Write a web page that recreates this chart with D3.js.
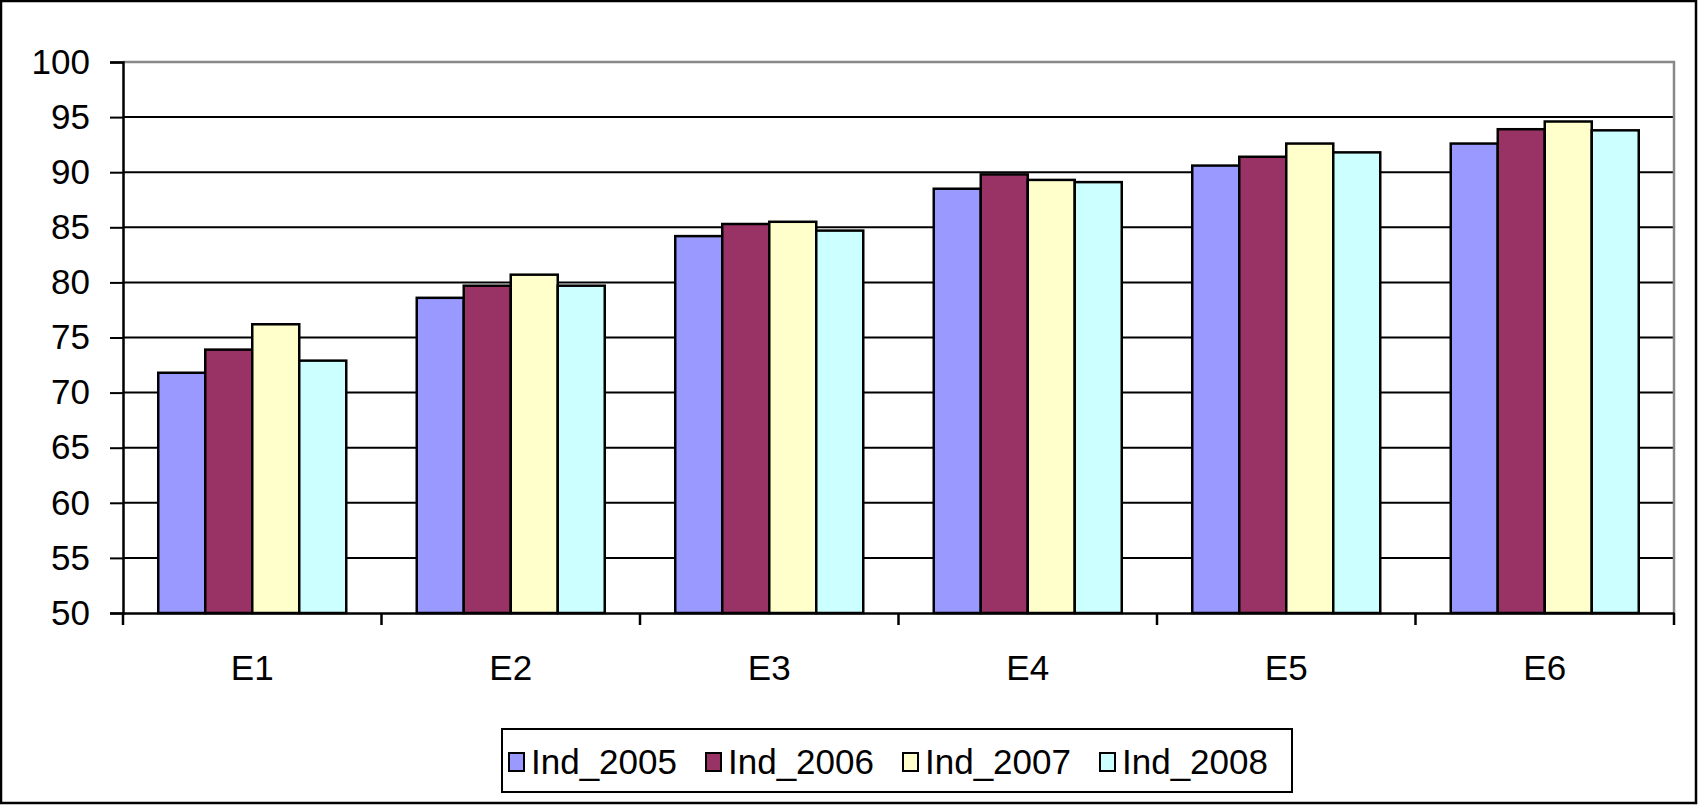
<!DOCTYPE html>
<html lang="en">
<head>
  <meta charset="UTF-8">
  <title>Ind chart</title>
  <style>
    body { margin: 0; background: #fff; }
    svg { display: block; }
    text { font-family: "Liberation Sans", Arial, sans-serif; fill: #000; }
  </style>
  <script src="https://cdnjs.cloudflare.com/ajax/libs/d3/7.8.5/d3.min.js"></script>
</head>
<body>
  <div id="graph"></div>
  <script>
    // data
    var categories = ["E1", "E2", "E3", "E4", "E5", "E6"];
    var seriesNames = ["Ind_2005", "Ind_2006", "Ind_2007", "Ind_2008"];
    var ind2005 = [71.8, 78.6, 84.2, 88.5, 90.6, 92.6];
    var ind2006 = [73.9, 79.7, 85.3, 89.8, 91.4, 93.9];
    var ind2007 = [76.2, 80.7, 85.5, 89.3, 92.6, 94.6];
    var ind2008 = [72.9, 79.7, 84.7, 89.1, 91.8, 93.8];
    var yTicks = [50, 55, 60, 65, 70, 75, 80, 85, 90, 95, 100];
    var colors = ["#9999ff", "#993366", "#ffffcc", "#ccffff"];

    var values = [ind2005, ind2006, ind2007, ind2008];

    var W = 1698, H = 805;
    var plot = {left: 123, right: 1674, top: 62, bottom: 613};

    var svg = d3.select("#graph").append("svg")
        .attr("width", W)
        .attr("height", H);

    // outer chart border
    svg.append("rect")
        .attr("x", 1).attr("y", 1)
        .attr("width", W - 3).attr("height", H - 3)
        .attr("fill", "#fff")
        .attr("stroke", "#000")
        .attr("stroke-width", 2.5);

    var x0 = d3.scaleBand()
        .domain(categories)
        .range([plot.left, plot.right]);

    var x1 = d3.scaleBand()
        .domain(seriesNames)
        .range([0, x0.bandwidth()])
        .paddingInner(0)
        .paddingOuter(0.75);

    var y = d3.scaleLinear()
        .domain([50, 100])
        .range([plot.bottom, plot.top]);

    // gridlines
    svg.append("g")
      .selectAll("line")
      .data(yTicks.filter(function(d) { return d > 50 && d < 100; }))
      .enter().append("line")
        .attr("x1", plot.left).attr("x2", plot.right)
        .attr("y1", function(d) { return y(d); })
        .attr("y2", function(d) { return y(d); })
        .attr("stroke", "#000")
        .attr("stroke-width", 2);

    // plot area border (top and right, grey)
    svg.append("path")
        .attr("d", "M" + plot.left + "," + y(100) + "H" + plot.right + "V" + plot.bottom)
        .attr("fill", "none")
        .attr("stroke", "#888")
        .attr("stroke-width", 2.5);

    // bars
    var groups = svg.append("g")
      .selectAll("g")
      .data(categories)
      .enter().append("g")
        .attr("transform", function(d) { return "translate(" + x0(d) + ",0)"; });

    groups.selectAll("rect")
      .data(function(d, i) {
        return seriesNames.map(function(s, j) { return {s: s, j: j, v: values[j][i]}; });
      })
      .enter().append("rect")
        .attr("x", function(d) { return x1(d.s); })
        .attr("y", function(d) { return y(d.v); })
        .attr("width", x1.bandwidth())
        .attr("height", function(d) { return y(50) - y(d.v); })
        .attr("fill", function(d) { return colors[d.j]; })
        .attr("stroke", "#000")
        .attr("stroke-width", 2.5);

    // y axis
    var yAxis = svg.append("g")
        .attr("transform", "translate(" + plot.left + ",0)")
        .call(d3.axisLeft(y).tickValues(yTicks).tickSize(13).tickPadding(20));
    yAxis.select(".domain").attr("stroke-width", 2.5);
    yAxis.selectAll(".tick line").attr("stroke-width", 2);
    yAxis.selectAll("text")
        .attr("font-size", 35)
        .attr("font-family", "Liberation Sans, Arial, sans-serif");

    // x axis
    var xAxis = svg.append("g")
        .attr("transform", "translate(0," + plot.bottom + ")")
        .call(d3.axisBottom(x0).tickSize(0).tickPadding(0));
    xAxis.select(".domain").attr("stroke-width", 2.5);
    xAxis.selectAll("text")
        .attr("y", 67)
        .attr("dy", 0)
        .attr("font-size", 35)
        .attr("font-family", "Liberation Sans, Arial, sans-serif");

    // category separator ticks
    var bounds = categories.map(function(c) { return x0(c); }).concat([plot.right]);
    svg.append("g")
      .selectAll("line")
      .data(bounds)
      .enter().append("line")
        .attr("x1", function(d) { return d; })
        .attr("x2", function(d) { return d; })
        .attr("y1", plot.bottom)
        .attr("y2", plot.bottom + 12)
        .attr("stroke", "#000")
        .attr("stroke-width", 2.5);

    // legend
    var legend = svg.append("g").attr("transform", "translate(502,729)");
    legend.append("rect")
        .attr("width", 790).attr("height", 63)
        .attr("fill", "#fff")
        .attr("stroke", "#000")
        .attr("stroke-width", 2);

    var items = legend.selectAll(".item")
      .data(seriesNames)
      .enter().append("g")
        .attr("class", "item")
        .attr("transform", function(d, i) { return "translate(" + (7 + i * 197) + ",0)"; });

    items.append("rect")
        .attr("y", 24)
        .attr("width", 15).attr("height", 18)
        .attr("fill", function(d, i) { return colors[i]; })
        .attr("stroke", "#000")
        .attr("stroke-width", 2);

    items.append("text")
        .attr("x", 22)
        .attr("y", 45)
        .attr("font-size", 35)
        .text(function(d) { return d; });
  </script>
</body>
</html>
